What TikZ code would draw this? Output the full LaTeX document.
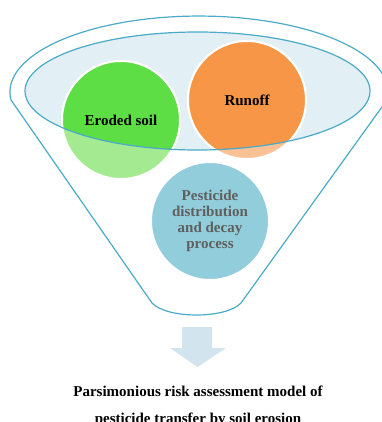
\documentclass[tikz,border=0pt]{standalone}
\usepackage{fontspec}
\setmainfont{Liberation Serif}
\usepackage{xcolor}
\usetikzlibrary{positioning}
\definecolor{funnelblue}{RGB}{75,170,200}
\definecolor{mouthblue}{RGB}{226,239,245}
\definecolor{soilgreen}{RGB}{94,222,69}
\definecolor{palegreen}{RGB}{163,234,145}
\definecolor{runofforange}{RGB}{247,150,70}
\definecolor{paleorange}{RGB}{250,194,148}
\definecolor{decayblue}{RGB}{146,205,220}
\definecolor{arrowblue}{RGB}{210,229,238}
\definecolor{textgrey}{RGB}{95,95,95}

\begin{document}
\begin{tikzpicture}[
    x=1pt, y=-1pt,
    rim/.style={draw=funnelblue, line width=1.2pt},
    bubble/.style={circle, draw=white, line width=2pt, minimum size=118pt, inner sep=0pt},
    txt/.style={font=\fontsize{15}{16}\selectfont\bfseries, align=center, inner sep=0pt}
]
    \useasboundingbox (0,0) rectangle (381,422);

    % Funnel
    \draw[rim] (11,100) arc[start angle=174, end angle=366, x radius=189, y radius=76]
        -- (241,303) .. controls (226,319) and (167,319) .. (152,303) -- cycle;
    \coordinate (mouth) at (197.5,91);
    \fill[mouthblue] (mouth) ellipse[x radius=172.5, y radius=59];

    % Bubbles
    \node[bubble, fill=palegreen] (soil) at (121,120) {};
    \node[bubble, fill=paleorange] (runoff) at (247,100) {};
    \node[bubble, fill=decayblue] (decay) at (210,221) {};
    \begin{scope}
        \clip (mouth) ellipse[x radius=172.5, y radius=59];
        \node[bubble, fill=soilgreen] at (soil) {};
        \node[bubble, fill=runofforange] at (runoff) {};
    \end{scope}
    \draw[rim] (mouth) ellipse[x radius=172.5, y radius=59];

    % Labels
    \node[txt] (soiltxt) at (soil) {Eroded soil};
    \node[txt] (runofftxt) at (runoff) {Runoff};
    \node[txt, text=textgrey] (decaytxt) at (decay) {Pesticide\\distribution\\and decay\\process};

    % Output
    \fill[arrowblue] (182,327) -- (212,327) -- (212,348) -- (226,348) -- (197.5,367)
        -- (170,348) -- (182,348) -- cycle;
    \node[txt, font=\fontsize{15}{27}\selectfont\bfseries, anchor=north] (model) at (198,386)
        {Parsimonious risk assessment model of\\pesticide transfer by soil erosion};
\end{tikzpicture}
\end{document}
